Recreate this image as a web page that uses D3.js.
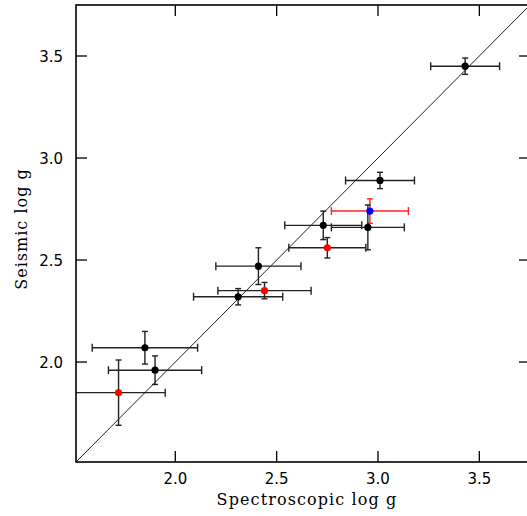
<!DOCTYPE html>
<html>
<head>
<meta charset="utf-8">
<script src="https://cdn.jsdelivr.net/npm/d3@7"></script>
<style>
  body { margin: 0; background: #fff; }
  svg { display: block; }
</style>
</head>
<body>
<svg id="chart" width="527" height="516"></svg>
<script>
// spectroscopic vs seismic log g, one row per star
const specLogg  = [3.43, 3.01, 2.96, 2.73, 2.95, 2.75, 2.41, 2.44, 2.31, 1.85, 1.90, 1.72];
const specErr   = [0.17, 0.17, 0.19, 0.19, 0.18, 0.19, 0.21, 0.23, 0.22, 0.26, 0.23, 0.23];
const seisLogg  = [3.45, 2.89, 2.74, 2.67, 2.66, 2.56, 2.47, 2.35, 2.32, 2.07, 1.96, 1.85];
const seisErr   = [0.04, 0.04, 0.06, 0.07, 0.11, 0.05, 0.09, 0.04, 0.04, 0.08, 0.07, 0.16];
const pointType = ["black", "black", "blue", "black", "black", "red", "black", "red", "black", "black", "black", "red"];
const ticks = [2.0, 2.5, 3.0, 3.5];

const svg = d3.select("#chart");
const margin = { left: 76, top: 5, right: 530, bottom: 462 };

const x = d3.scaleLinear().domain([1.51, 3.75]).range([margin.left, margin.right]);
const y = d3.scaleLinear().domain([1.51, 3.75]).range([margin.bottom, margin.top]);

const data = specLogg.map((s, i) => ({
    x: s, xe: specErr[i], y: seisLogg[i], ye: seisErr[i], type: pointType[i]
}));

svg.append("clipPath").attr("id", "clip")
    .append("rect")
    .attr("x", margin.left).attr("y", margin.top)
    .attr("width", margin.right - margin.left)
    .attr("height", margin.bottom - margin.top);

const plot = svg.append("g").attr("clip-path", "url(#clip)");

// one-to-one line
plot.append("line")
    .attr("x1", x(1.51)).attr("y1", y(1.51))
    .attr("x2", x(3.75)).attr("y2", y(3.75))
    .attr("stroke", "#222").attr("stroke-width", 1);

const barColor = d => d.type === "blue" ? "#f22" : "#222";
const capH = 4, capV = 3;

const err = plot.selectAll(".err").data(data).enter().append("g").attr("class", "err")
    .attr("stroke", barColor).attr("stroke-width", 1.4).attr("fill", "none");

// horizontal error bars with caps
err.append("line")
    .attr("x1", d => x(d.x - d.xe)).attr("x2", d => x(d.x + d.xe))
    .attr("y1", d => y(d.y)).attr("y2", d => y(d.y));
err.append("line")
    .attr("x1", d => x(d.x - d.xe)).attr("x2", d => x(d.x - d.xe))
    .attr("y1", d => y(d.y) - capH).attr("y2", d => y(d.y) + capH);
err.append("line")
    .attr("x1", d => x(d.x + d.xe)).attr("x2", d => x(d.x + d.xe))
    .attr("y1", d => y(d.y) - capH).attr("y2", d => y(d.y) + capH);

// vertical error bars with caps
err.append("line")
    .attr("x1", d => x(d.x)).attr("x2", d => x(d.x))
    .attr("y1", d => y(d.y - d.ye)).attr("y2", d => y(d.y + d.ye));
err.append("line")
    .attr("x1", d => x(d.x) - capV).attr("x2", d => x(d.x) + capV)
    .attr("y1", d => y(d.y - d.ye)).attr("y2", d => y(d.y - d.ye));
err.append("line")
    .attr("x1", d => x(d.x) - capV).attr("x2", d => x(d.x) + capV)
    .attr("y1", d => y(d.y + d.ye)).attr("y2", d => y(d.y + d.ye));

const fillColor = { black: "#000", red: "#f00", blue: "#00f" };
plot.selectAll(".pt").data(data).enter().append("circle")
    .attr("class", "pt")
    .attr("cx", d => x(d.x)).attr("cy", d => y(d.y))
    .attr("r", 3.6)
    .attr("fill", d => fillColor[d.type]);

// frame
svg.append("rect")
    .attr("x", margin.left).attr("y", margin.top)
    .attr("width", margin.right - margin.left)
    .attr("height", margin.bottom - margin.top)
    .attr("fill", "none").attr("stroke", "#000").attr("stroke-width", 1.6);

// inward ticks on all four sides
const tl = 11;
const tg = svg.append("g").attr("stroke", "#000").attr("stroke-width", 1.3);
ticks.forEach(t => {
    tg.append("line").attr("x1", x(t)).attr("x2", x(t)).attr("y1", margin.bottom).attr("y2", margin.bottom - tl);
    tg.append("line").attr("x1", x(t)).attr("x2", x(t)).attr("y1", margin.top).attr("y2", margin.top + tl);
    tg.append("line").attr("y1", y(t)).attr("y2", y(t)).attr("x1", margin.left).attr("x2", margin.left + tl);
    tg.append("line").attr("y1", y(t)).attr("y2", y(t)).attr("x1", margin.right).attr("x2", margin.right - tl);
});

const tickFont = "'DejaVu Sans', sans-serif";
svg.append("g").selectAll("text").data(ticks).enter().append("text")
    .attr("x", d => x(d)).attr("y", 483.5)
    .attr("text-anchor", "middle")
    .style("font-family", tickFont).style("font-size", "15px")
    .text(d => d.toFixed(1));

svg.append("g").selectAll("text").data(ticks).enter().append("text")
    .attr("x", 63).attr("y", d => y(d) + 5.5)
    .attr("text-anchor", "end")
    .style("font-family", tickFont).style("font-size", "15px")
    .text(d => d.toFixed(1));

svg.append("text")
    .attr("x", 307).attr("y", 505)
    .attr("text-anchor", "middle")
    .style("font-family", "'DejaVu Serif', serif").style("font-size", "16px")
    .style("letter-spacing", "1.1px")
    .text("Spectroscopic log g");

svg.append("text")
    .attr("transform", `translate(27,229) rotate(-90)`)
    .attr("text-anchor", "middle")
    .style("font-family", "'DejaVu Serif', serif").style("font-size", "16px")
    .style("letter-spacing", "1px")
    .text("Seismic log g");
</script>
</body>
</html>
